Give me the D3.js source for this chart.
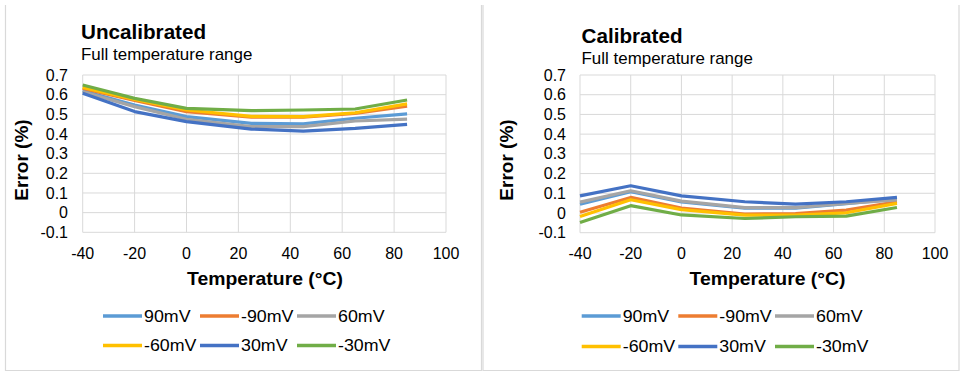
<!doctype html>
<html>
  <head>
    <script src="https://d3js.org/d3.v7.min.js"></script>
    <style>
      body { margin: 0; background: #fff; }
      text { font-family: "Liberation Sans", Arial, sans-serif; fill: #000; }
    </style>
  </head>
  <body>
    <script>
      // ---------- data ----------
      var temps   = [-40, -20, 0, 25, 45, 65, 85];
      var series  = ["90mV", "-90mV", "60mV", "-60mV", "30mV", "-30mV"];
      var colors  = ["#5B9BD5", "#ED7D31", "#A5A5A5", "#FFC000", "#4472C4", "#70AD47"];

      // uncalibrated error (%)
      var unc90   = [0.620, 0.547, 0.488, 0.454, 0.451, 0.480, 0.502];
      var uncN90  = [0.632, 0.570, 0.514, 0.485, 0.485, 0.505, 0.542];
      var unc60   = [0.615, 0.539, 0.475, 0.437, 0.437, 0.466, 0.476];
      var uncN60  = [0.637, 0.576, 0.522, 0.490, 0.488, 0.508, 0.553];
      var unc30   = [0.607, 0.514, 0.463, 0.425, 0.415, 0.429, 0.449];
      var uncN30  = [0.649, 0.581, 0.530, 0.519, 0.522, 0.527, 0.573];

      // calibrated error (%)
      var cal90   = [0.044, 0.108, 0.056, 0.024, 0.024, 0.047, 0.072];
      var calN90  = [0.004, 0.079, 0.025, -0.006, -0.003, 0.015, 0.057];
      var cal60   = [0.055, 0.113, 0.060, 0.027, 0.027, 0.049, 0.066];
      var calN60  = [-0.018, 0.067, 0.017, -0.011, -0.011, 0.001, 0.049];
      var cal30   = [0.087, 0.138, 0.087, 0.057, 0.045, 0.057, 0.079];
      var calN30  = [-0.048, 0.037, -0.010, -0.028, -0.019, -0.016, 0.028];

      var xTicks  = [-40, -20, 0, 20, 40, 60, 80, 100];
      var yTicks  = [-0.1, 0, 0.1, 0.2, 0.3, 0.4, 0.5, 0.6, 0.7];

      /********** layout **********/
      var width = 962, height = 372;
      var gridCol = "#d9d9d9";

      var panels = [
        { title: "Uncalibrated", values: [unc90, uncN90, unc60, uncN60, unc30, uncN30],
          left: 5.5, right: 481.5,
          plot: { x0: 82.7, x1: 446, y0: 75, y1: 232.3 },
          titleX: 81, titleY: 38.5, subY: 59.5,
          yTickX: 68, yLabelX: 28, xLabelX: 265,
          legX: [103, 200, 297], legY: [316, 345.5] },
        { title: "Calibrated", values: [cal90, calN90, cal60, calN60, cal30, calN30],
          left: 483, right: 959,
          plot: { x0: 580, x1: 935, y0: 75, y1: 232.7 },
          titleX: 581.5, titleY: 42.5, subY: 63.5,
          yTickX: 566, yLabelX: 513, xLabelX: 767.5,
          legX: [581.7, 678.3, 775], legY: [316, 346.5] }
      ];

      var svg = d3.select("body").append("svg")
        .attr("width", width)
        .attr("height", height);

      var fmt = d => String(+d.toFixed(1));
      // the source text is slightly wider than it is tall
      var stretch = (x, y, s) => "translate(" + x + "," + y + ") scale(" + s + ",1)";

      panels.forEach(function(p) {
        var g = svg.append("g");

        // panel frame (no top edge visible in the reference)
        g.append("path")
          .attr("d", "M" + p.left + ",5V" + 370.5 + "H" + p.right + "V5")
          .attr("fill", "none")
          .attr("stroke", gridCol)
          .attr("stroke-width", 1.2);

        var x = d3.scaleLinear().domain([-40, 100]).range([p.plot.x0, p.plot.x1]);
        var y = d3.scaleLinear().domain([-0.1, 0.7]).range([p.plot.y1, p.plot.y0]);

        // grid
        g.append("g").selectAll("line").data(yTicks).join("line")
          .attr("x1", p.plot.x0).attr("x2", p.plot.x1)
          .attr("y1", d => y(d)).attr("y2", d => y(d))
          .attr("stroke", gridCol);
        g.append("g").selectAll("line").data(xTicks).join("line")
          .attr("x1", d => x(d)).attr("x2", d => x(d))
          .attr("y1", p.plot.y0).attr("y2", p.plot.y1)
          .attr("stroke", gridCol);

        // tick labels
        g.append("g").selectAll("text").data(yTicks).join("text")
          .attr("x", p.yTickX).attr("y", d => y(d))
          .attr("dy", "0.35em")
          .attr("text-anchor", "end")
          .style("font-size", "16px")
          .text(fmt);
        g.append("g").selectAll("text").data(xTicks).join("text")
          .attr("x", d => x(d)).attr("y", 253)
          .attr("dy", "0.35em")
          .attr("text-anchor", "middle")
          .style("font-size", "16px")
          .text(d => String(d));

        // series
        var line = d3.line()
          .x((d, i) => x(temps[i]))
          .y(d => y(d));
        g.append("g").selectAll("path").data(p.values).join("path")
          .attr("d", line)
          .attr("fill", "none")
          .attr("stroke", (d, i) => colors[i])
          .attr("stroke-width", 3.2)
          .attr("stroke-linejoin", "round");

        // titles
        g.append("text")
          .attr("transform", stretch(p.titleX, p.titleY, 1.06))
          .style("font-size", "19.5px").style("font-weight", "bold")
          .text(p.title);
        g.append("text")
          .attr("transform", stretch(p.titleX, p.subY, 1.06))
          .style("font-size", "16px")
          .text("Full temperature range");
        g.append("text")
          .attr("transform", stretch(p.xLabelX, 285, 1.02))
          .attr("text-anchor", "middle")
          .style("font-size", "19px").style("font-weight", "bold")
          .text("Temperature (°C)");
        g.append("text")
          .attr("transform", "translate(" + p.yLabelX + ",160) rotate(-90)")
          .attr("text-anchor", "middle")
          .style("font-size", "19px").style("font-weight", "bold")
          .text("Error (%)");

        // legend
        var leg = g.append("g").selectAll("g").data(series).join("g")
          .attr("transform", (d, i) => "translate(" + p.legX[i % 3] + "," + p.legY[Math.floor(i / 3)] + ")");
        leg.append("line")
          .attr("x1", 0).attr("x2", 39)
          .attr("stroke", (d, i) => colors[i])
          .attr("stroke-width", 3.5);
        leg.append("text")
          .attr("transform", stretch(41, 0, 1.08))
          .attr("dy", "0.35em")
          .style("font-size", "16.5px")
          .text(d => d);
      });
    </script>
  </body>
</html>
